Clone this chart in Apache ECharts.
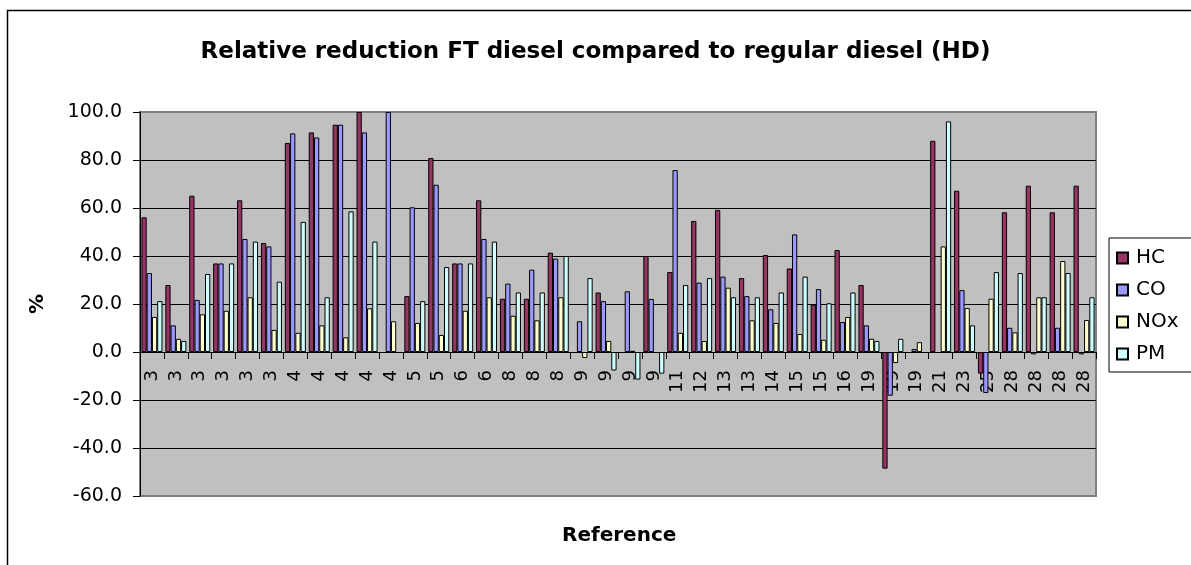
<!DOCTYPE html>
<html>
<head>
<meta charset="utf-8">
<title>Relative reduction FT diesel</title>
<script src="https://cdn.jsdelivr.net/npm/echarts@6/dist/echarts.min.js"></script>
<style>
  html, body { margin: 0; padding: 0; background: #fff; }
  #main { width: 1191px; height: 565px; }
</style>
</head>
<body>
<div id="main"></div>
<script>
// reference numbers on the category axis
var references = ['3','3','3','3','3','3','4','4','4','4','4','5','5','6','6','8','8','8',
                  '9','9','9','9','11','12','13','13','14','15','15','16','19','19','19',
                  '21','23','25','28','28','28','28'];

// relative reduction in %, '-' = no value
var hcValues  = [56.1, 27.9, 65.1, 36.9, 63.2, 45.4, 87.1, 91.5, 94.7, 100.0, '-', 23.3, 80.8, 36.9, 63.2,
                 22.2, 22.2, 41.4, '-', 24.8, '-', 40.0, 33.3, 54.6, 59.2, 30.8, 40.4, 34.8, 19.7, 42.5,
                 27.9, -48.6, '-', 88.0, 67.2, -9.0, 58.2, 69.3, 58.2, 69.3];
var coValues  = [32.9, 11.1, 21.7, 36.9, 47.1, 44.0, 91.1, 89.4, 94.7, 91.5, 100.0, 60.3, 69.7, 36.9, 47.1,
                 28.5, 34.3, 38.9, 12.8, 21.2, 25.3, 22.1, 75.8, 28.9, 31.4, 23.3, 17.8, 49.0, 26.2, 12.5,
                 11.1, -18.2, 1.2, '-', 25.8, -17.1, 10.1, -1.0, 10.1, -1.0];
var noxValues = [14.6, 5.5, 15.7, 17.2, 22.8, 9.2, 8.0, 11.1, 6.1, 18.2, 12.8, 12.1, 7.1, 17.2, 22.8,
                 15.1, 13.2, 22.8, -2.5, 4.6, 0.5, '-', 8.0, 4.6, 26.8, 13.2, 12.1, 7.5, 5.1, 14.6,
                 5.5, -4.6, 4.1, 44.0, 18.3, 22.2, 8.2, 22.8, 37.9, 13.3];
var pmValues  = [21.2, 4.6, 32.5, 36.9, 46.0, 29.3, 54.2, 22.8, 58.6, 46.0, '-', 21.2, 35.4, 36.9, 46.0,
                 24.8, 24.8, 40.0, 30.8, -7.7, -11.5, -9.0, 27.9, 30.8, 22.8, 22.8, 24.8, 31.4, 20.3, 24.8,
                 4.6, 5.5, '-', 96.1, 11.1, 33.3, 32.9, 22.8, 32.9, 22.8];

var seriesNames = ['HC', 'CO', 'NOx', 'PM'];
var seriesColors = ['#993366', '#9999FF', '#FFFFCC', '#CCFFFF'];
var seriesValues = [hcValues, coValues, noxValues, pmValues];

var font = 'DejaVu Sans';

// plot box and value range, the category axis is lifted up to the zero line
var gridTop = 112, gridBottom = 69, chartHeight = 565;
var yMin = -60, yMax = 100;
var plotHeight = chartHeight - gridTop - gridBottom;
var zeroLift = plotHeight * (0 - yMin) / (yMax - yMin);

var chart = echarts.init(document.getElementById('main'), null, { renderer: 'canvas' });

var series = [];
for (var i = 0; i < seriesNames.length; i++) {
    series.push({
        name: seriesNames[i],
        type: 'bar',
        data: seriesValues[i],
        barGap: '0%',
        barCategoryGap: '12%',
        itemStyle: {
            color: seriesColors[i],
            borderColor: '#000',
            borderWidth: 1
        }
    });
}

chart.setOption({
    animation: false,
    backgroundColor: '#fff',
    title: {
        text: 'Relative reduction FT diesel compared to regular diesel (HD)',
        left: 'center',
        top: 36,
        textStyle: { fontFamily: font, fontWeight: 'bold', fontSize: 23, color: '#000' }
    },
    graphic: [{
        type: 'rect',
        silent: true,
        shape: { x: 7.5, y: 10.5, width: 1200, height: 600 },
        style: { fill: 'none', stroke: '#000', lineWidth: 1.5 }
    }, {
        // x axis title
        type: 'text',
        silent: true,
        left: 618 - 56,
        top: 526,
        style: { text: 'Reference', fill: '#000', font: 'bold 20px "DejaVu Sans"' }
    }],
    legend: {
        orient: 'vertical',
        left: 1109,
        top: 238,
        data: seriesNames,
        backgroundColor: '#fff',
        borderColor: '#000',
        borderWidth: 1,
        padding: [10, 30, 8, 7],
        itemWidth: 11,
        itemHeight: 11,
        itemGap: 12,
        icon: 'rect',
        textStyle: { fontFamily: font, fontSize: 20, color: '#000', padding: [0, 0, 0, 3] }
    },
    grid: {
        left: 140,
        top: gridTop,
        right: 95,
        bottom: gridBottom,
        show: true,
        backgroundColor: '#C0C0C0',
        borderColor: '#808080',
        borderWidth: 2
    },
    xAxis: {
        type: 'category',
        data: references,
        position: 'bottom',
        offset: -zeroLift,
        axisLine: { show: true, onZero: false, lineStyle: { color: '#000', width: 1 } },
        axisTick: { show: true, length: 7, lineStyle: { color: '#000' } },
        axisLabel: {
            interval: 0,
            rotate: 90,
            margin: 18,
            fontFamily: font,
            fontSize: 18,
            color: '#000'
        },
        splitLine: { show: false }
    },
    yAxis: {
        type: 'value',
        min: yMin,
        max: yMax,
        interval: 20,
        name: '%',
        nameLocation: 'middle',
        nameGap: 92,
        nameTextStyle: { fontFamily: font, fontWeight: 'bold', fontSize: 20, color: '#000' },
        axisLine: { show: true, onZero: false, lineStyle: { color: '#000', width: 1 } },
        axisTick: { show: true, length: 7, lineStyle: { color: '#000' } },
        axisLabel: {
            margin: 18,
            fontFamily: font,
            fontSize: 19,
            color: '#000',
            formatter: function (v) { return v.toFixed(1); }
        },
        splitLine: {
            show: true,
            showMinLine: false,
            showMaxLine: false,
            lineStyle: { color: '#000', width: 1 }
        }
    },
    series: series
});
</script>
</body>
</html>
